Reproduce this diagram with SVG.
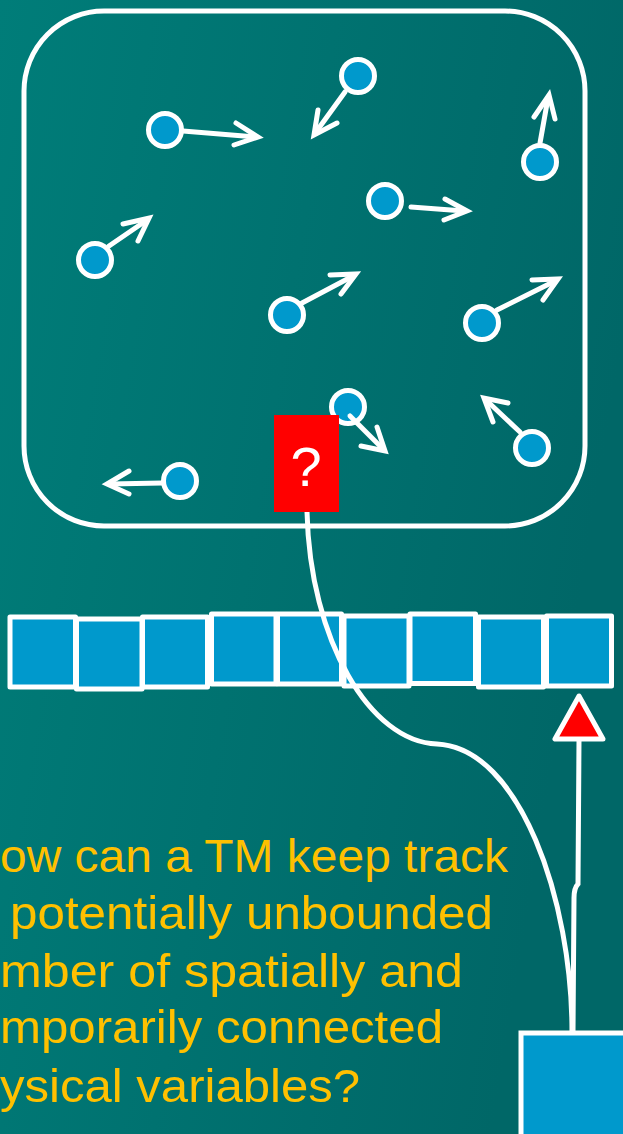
<svg xmlns="http://www.w3.org/2000/svg" width="623" height="1134" viewBox="0 0 623 1134">
<defs>
<linearGradient id="bg" x1="0" y1="0" x2="1" y2="0.3">
<stop offset="0" stop-color="#007D79"/>
<stop offset="1" stop-color="#006767"/>
</linearGradient>
<style>
.box{fill:none;stroke:#fff;stroke-width:5}
.p{fill:#0099CC;stroke:#fff;stroke-width:5}
.sh{fill:none;stroke:#fff;stroke-width:5;stroke-linecap:round;stroke-linejoin:miter}
.cell{fill:#0099CC;stroke:#fff;stroke-width:5;stroke-linejoin:round}
.con{fill:none;stroke:#fff;stroke-width:5}
.txt{fill:#FFC000;font-family:"Liberation Sans",Arial,sans-serif;font-size:47px}
</style>
</defs>
<rect x="0" y="0" width="623" height="1134" fill="url(#bg)"/>
<g id="container">
<rect class="box" x="24" y="11" width="561" height="515" rx="80" ry="80"/>
</g>
<g id="particles">
<g id="p1"><circle class="p" cx="165" cy="130" r="16.5"/><path class="sh" d="M183,131 L256,137"/><polyline class="sh" points="236,123 258,137 234,145"/></g>
<g id="p2"><circle class="p" cx="358" cy="76" r="16.5"/><path class="sh" d="M345,92 L316,132"/><polyline class="sh" points="318,110 314,135 337,123"/></g>
<g id="p3"><circle class="p" cx="540" cy="162" r="16.5"/><path class="sh" d="M540,143 L548,98"/><polyline class="sh" points="534,117 549,95 555,119"/></g>
<g id="p4"><circle class="p" cx="385" cy="201" r="16.5"/><path class="sh" d="M411,207 L464,211"/><polyline class="sh" points="445,199 467,211 444,220"/></g>
<g id="p5"><circle class="p" cx="95" cy="260" r="16.5"/><path class="sh" d="M109,246 L147,220"/><polyline class="sh" points="123,224 149,218 138,241"/></g>
<g id="p6"><circle class="p" cx="287" cy="315" r="16.5"/><path class="sh" d="M302,303 L353,276"/><polyline class="sh" points="330,275 356,274 341,294"/></g>
<g id="p7"><circle class="p" cx="482" cy="323" r="16.5"/><path class="sh" d="M497,310 L555,281"/><polyline class="sh" points="532,280 558,279 543,300"/></g>
<g id="p8"><circle class="p" cx="348" cy="407" r="16.5"/><path class="sh" d="M350,416 L383,449"/><polyline class="sh" points="377,427 385,451 361,446"/></g>
<g id="p9"><circle class="p" cx="532" cy="448" r="16.5"/><path class="sh" d="M520,432 L486,400"/><polyline class="sh" points="508,403 484,398 493,422"/></g>
<g id="p10"><circle class="p" cx="180" cy="481" r="16.5"/><path class="sh" d="M162,483 L110,484"/><polyline class="sh" points="129,471 107,484 129,494"/></g>
</g>
<g id="tape">
<rect class="cell" x="10" y="617" width="65.5" height="70"/>
<rect class="cell" x="76.5" y="619" width="65.5" height="70"/>
<rect class="cell" x="142.5" y="617" width="65" height="70"/>
<rect class="cell" x="211.5" y="614" width="64.5" height="70"/>
<rect class="cell" x="277.5" y="614" width="64" height="70"/>
<rect class="cell" x="344" y="616" width="65" height="70"/>
<rect class="cell" x="410" y="614" width="65.5" height="69.5"/>
<rect class="cell" x="478.5" y="617" width="65" height="70"/>
<rect class="cell" x="546.5" y="616" width="65" height="70"/>
</g>
<g id="connectors">
<path class="con" d="M307,512 C310,640 370,742 437,744 C520,748 572,900 572,1032"/>
<path class="con" d="M579,741 L578,884 Q574,888 574,898 L573,1032"/>
</g>
<g id="head">
<rect x="274" y="415" width="65" height="97" fill="#FF0000"/>
<text x="306" y="486" text-anchor="middle" fill="#fff" font-family="'Liberation Sans',Arial,sans-serif" font-size="56">?</text>
</g>
<g id="pointer">
<polygon points="579,696 555,739 603,739" fill="#FF0000" stroke="#fff" stroke-width="5" stroke-linejoin="round"/>
</g>
<g id="state">
<rect x="521" y="1033" width="110" height="110" fill="#0099CC" stroke="#fff" stroke-width="5"/>
</g>
<g id="question">
<text class="txt" x="0" y="872" textLength="508" lengthAdjust="spacingAndGlyphs">ow can a TM keep track</text>
<text class="txt" x="10" y="929" textLength="483" lengthAdjust="spacingAndGlyphs">potentially unbounded</text>
<text class="txt" x="0" y="987" textLength="463" lengthAdjust="spacingAndGlyphs">mber of spatially and</text>
<text class="txt" x="0" y="1043" textLength="443" lengthAdjust="spacingAndGlyphs">mporarily connected</text>
<text class="txt" x="0" y="1102" textLength="360" lengthAdjust="spacingAndGlyphs">ysical variables?</text>
</g>
</svg>
